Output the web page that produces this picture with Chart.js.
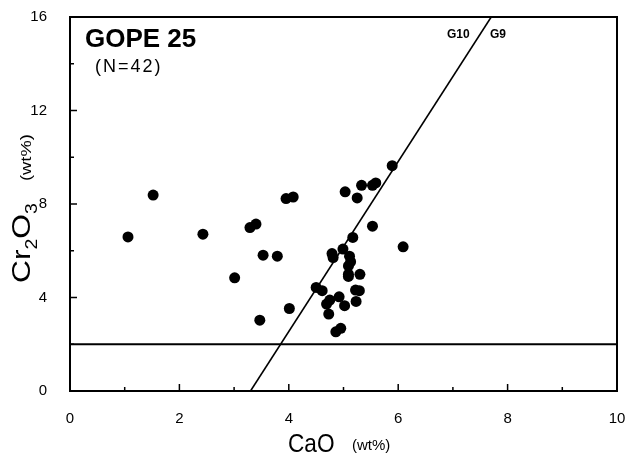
<!DOCTYPE html>
<html>
<head>
<meta charset="utf-8">
<script src="https://cdn.jsdelivr.net/npm/chart.js@4.4.1/dist/chart.umd.min.js"></script>
<style>
html,body{margin:0;padding:0;background:#fff;}
</style>
</head>
<body>
<canvas id="mycanvas" width="629" height="459"></canvas>
<script>
// garnet analyses, sample GOPE 25
var cao = [1.06, 1.52, 2.43, 3.01, 3.29, 3.40, 3.53, 3.47, 3.79, 4.01,
           3.95, 4.08, 5.03, 5.33, 5.25, 5.53, 5.59, 5.89, 5.53, 6.09,
           5.17, 4.99, 4.79, 4.81, 5.11, 5.13, 5.09, 5.09, 5.30, 4.50,
           4.61, 5.22, 5.29, 4.92, 4.75, 4.69, 5.02, 5.23, 4.73, 4.86,
           4.95, 5.09];
var cr2o3 = [6.59, 8.38, 6.71, 4.84, 6.99, 7.14, 5.81, 3.03, 5.77, 3.53,
             8.23, 8.30, 8.52, 8.80, 8.26, 8.80, 8.90, 9.64, 7.05, 6.17,
             6.57, 6.07, 5.88, 5.71, 5.77, 5.53, 5.00, 4.90, 4.99, 4.43,
             4.29, 4.32, 4.29, 4.03, 3.89, 3.72, 3.65, 3.83, 3.29, 2.53,
             2.68, 5.35];

// G10 / G9 boundary and the Cr2O3 cut-off
var boundaryCaO = [3.3, 7.7];
var boundaryCr = [0, 16];
var crLimit = 2;

var xTicks = [0, 2, 4, 6, 8, 10];
var yTicks = [0, 4, 8, 12, 16];

var pts = [];
for (var i in cao) {
    pts.push({x: cao[i], y: cr2o3[i]});
}

var frame = {
    id: 'frame',
    afterDraw: function (chart) {
        var c = chart.ctx;
        var a = chart.chartArea;
        var xs = chart.scales.x, ys = chart.scales.y;
        c.save();
        c.strokeStyle = '#000';
        c.fillStyle = '#000';
        c.lineWidth = 2;
        c.strokeRect(a.left, a.top, a.right - a.left, a.bottom - a.top);

        // inward tick marks
        c.lineWidth = 1.5;
        c.beginPath();
        for (var v = xs.min; v <= xs.max; v++) {
            var px = xs.getPixelForValue(v);
            var len = (v % 2 === 0) ? 7 : 4;
            c.moveTo(px, a.bottom);
            c.lineTo(px, a.bottom - len);
        }
        for (var w = ys.min; w <= ys.max; w += 2) {
            var py = ys.getPixelForValue(w);
            var l2 = (w % 4 === 0) ? 7 : 4;
            c.moveTo(a.left, py);
            c.lineTo(a.left + l2, py);
        }
        c.stroke();

        c.textBaseline = 'alphabetic';
        c.textAlign = 'left';

        // x axis title
        c.save();
        c.translate(288, 452);
        c.scale(0.87, 1);
        c.font = '26px "Liberation Sans"';
        c.fillText('CaO', 0, 0);
        c.restore();
        c.font = '15px "Liberation Sans"';
        c.fillText('(wt%)', 352, 450);

        // y axis title, runs bottom to top
        c.save();
        c.translate(30, 283);
        c.rotate(-Math.PI / 2);
        c.scale(1.22, 1);
        var x0 = 0;
        c.font = '26px "Liberation Sans"';
        c.fillText('Cr', x0, 0); x0 += c.measureText('Cr').width;
        c.font = '16px "Liberation Sans"';
        c.fillText('2', x0, 7); x0 += c.measureText('2').width;
        c.font = '26px "Liberation Sans"';
        c.fillText('O', x0, 0); x0 += c.measureText('O').width;
        c.font = '16px "Liberation Sans"';
        c.fillText('3', x0, 7);
        c.font = '15px "Liberation Sans"';
        c.fillText('(wt%)', 102 / 1.22, 1);
        c.restore();

        // sample label
        c.font = 'bold 26px "Liberation Sans"';
        c.fillText('GOPE 25', 85, 47);
        c.font = '18px "Liberation Sans"';
        c.letterSpacing = '2px';
        c.fillText('(N=42)', 95, 72);
        c.letterSpacing = '0px';

        // field labels either side of the boundary
        c.font = 'bold 12px "Liberation Sans"';
        c.fillText('G10', 447, 38);
        c.fillText('G9', 490, 38);
        c.restore();
    }
};

var ctx = document.getElementById('mycanvas');

var scatter = new Chart(ctx, {
    type: 'scatter',
    data: {
        datasets: [
            {
                label: 'GOPE 25',
                data: pts,
                backgroundColor: '#000',
                borderColor: '#000',
                borderWidth: 0,
                pointRadius: 5.5
            },
            {
                label: 'G10/G9',
                data: [{x: boundaryCaO[0], y: boundaryCr[0]}, {x: boundaryCaO[1], y: boundaryCr[1]}],
                showLine: true,
                borderColor: '#000',
                borderWidth: 1.6,
                pointRadius: 0
            },
            {
                label: 'Cr limit',
                data: [{x: xTicks[0], y: crLimit}, {x: xTicks[xTicks.length - 1], y: crLimit}],
                showLine: true,
                borderColor: '#000',
                borderWidth: 2,
                pointRadius: 0
            }
        ]
    },
    options: {
        responsive: false,
        animation: false,
        layout: {padding: {top: 17, right: 12, left: 0, bottom: 0}},
        plugins: {legend: {display: false}, tooltip: {enabled: false}},
        scales: {
            x: {
                type: 'linear',
                min: xTicks[0],
                max: xTicks[xTicks.length - 1],
                grid: {display: false},
                border: {display: false},
                afterBuildTicks: function (s) { s.ticks = xTicks.map(function (v) { return {value: v}; }); },
                afterFit: function (s) { s.height = 68; s.paddingLeft = 0; s.paddingRight = 0; },
                ticks: {color: '#000', padding: 11, font: {family: 'Liberation Sans', size: 15}, maxRotation: 0}
            },
            y: {
                type: 'linear',
                min: yTicks[0],
                max: yTicks[yTicks.length - 1],
                grid: {display: false},
                border: {display: false},
                afterBuildTicks: function (s) { s.ticks = yTicks.map(function (v) { return {value: v}; }); },
                afterFit: function (s) { s.width = 70; s.paddingTop = 0; s.paddingBottom = 0; },
                ticks: {color: '#000', padding: 15, font: {family: 'Liberation Sans', size: 15}}
            }
        }
    },
    plugins: [frame]
});
</script>
</body>
</html>
